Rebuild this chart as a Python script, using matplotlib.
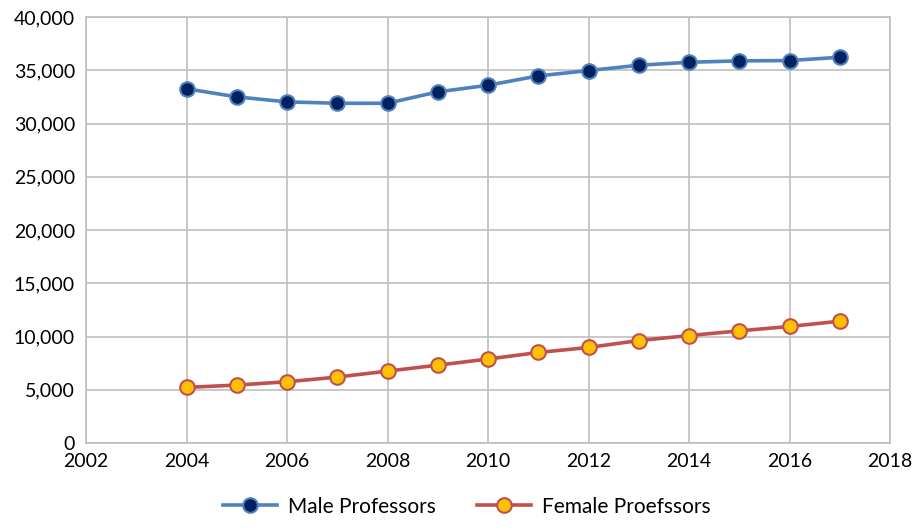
import matplotlib
matplotlib.use("Agg")
import matplotlib.pyplot as plt
from matplotlib.ticker import FuncFormatter

plt.rcParams['font.family'] = ['Lato', 'DejaVu Sans']

years = [2004, 2005, 2006, 2007, 2008, 2009, 2010, 2011, 2012, 2013, 2014, 2015, 2016, 2017]
male = [33260, 32500, 32030, 31900, 31900, 32970, 33590, 34470, 34970, 35470, 35750, 35880, 35910, 36220]
female = [5220, 5440, 5750, 6190, 6750, 7310, 7880, 8500, 8970, 9620, 10090, 10530, 10940, 11440]

fig = plt.figure(figsize=(9.24, 5.3), dpi=100)
ax = fig.add_axes([86 / 924, 1 - 443 / 530, (890 - 86) / 924, (443 - 17) / 530])

ax.plot(years, male, color='#4F81BD', lw=2.6, marker='o', ms=10.5,
        mfc='#002060', mec='#4F81BD', mew=1.5, label='Male Professors', zorder=3)
ax.plot(years, female, color='#C0504D', lw=2.6, marker='o', ms=10.5,
        mfc='#FFC000', mec='#C0504D', mew=1.5, label='Female Proefssors', zorder=3)

ax.set_xlim(2002, 2018)
ax.set_ylim(0, 40000)
ax.set_xticks(range(2002, 2019, 2))
ax.set_yticks(range(0, 40001, 5000))
ax.yaxis.set_major_formatter(FuncFormatter(lambda v, p: f'{int(v):,}'))
ax.grid(True, color='#BFBFBF', lw=1.2)
ax.set_axisbelow(True)
for s in ax.spines.values():
    s.set_color('#BFBFBF')
    s.set_linewidth(1.2)
ax.tick_params(length=0, labelsize=14, labelcolor='black')
ax.tick_params(axis='x', pad=7)
ax.tick_params(axis='y', pad=8)

fig.legend(loc='lower center', bbox_to_anchor=(0.505, -0.01), ncol=2, frameon=False,
           fontsize=15, handlelength=2.6, handletextpad=0.5, columnspacing=2.0)

fig.savefig('out.png', dpi=100)
